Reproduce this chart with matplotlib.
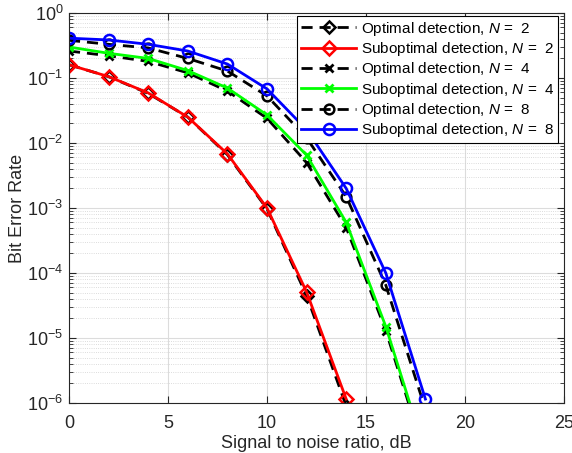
import numpy as np
import matplotlib
matplotlib.use("Agg")
import matplotlib.pyplot as plt
from matplotlib.ticker import LogLocator, NullFormatter

plt.rcParams['font.family'] = ['Liberation Sans', 'DejaVu Sans']
plt.rcParams['mathtext.fontset'] = 'custom'
plt.rcParams['mathtext.rm'] = 'Liberation Sans'
plt.rcParams['mathtext.it'] = 'Liberation Sans:italic'

# SNR grid, dB
snr = [0, 2, 4, 6, 8, 10, 12, 14, 16, 18]

# bit error rates
opt_n2 = [0.16, 0.105, 0.058, 0.025, 0.0066, 0.00097, 4.5e-5, 9e-7]
sub_n2 = [0.16, 0.105, 0.059, 0.025, 0.0068, 0.0010, 5.1e-5, 1.15e-6]
opt_n4 = [0.26, 0.22, 0.18, 0.12, 0.063, 0.024, 0.005, 5e-4, 1.3e-5, 1.5e-7]
sub_n4 = [0.30, 0.24, 0.20, 0.13, 0.070, 0.027, 0.0065, 6e-4, 1.5e-5, 1.7e-7]
opt_n8 = [0.38, 0.33, 0.29, 0.20, 0.128, 0.053, 0.012, 0.0015, 6.5e-5, 8e-7]
sub_n8 = [0.41, 0.385, 0.33, 0.26, 0.164, 0.068, 0.016, 0.002, 1e-4, 1.15e-6]

fig = plt.figure(figsize=(5.72, 4.53), dpi=100)
ax = fig.add_axes([69/572, 50/453, 495/572, 390/453])

ax.semilogy(snr[:len(opt_n2)], opt_n2, 'k--', marker='D', ms=6, mfc='none', mew=1.8, lw=2,
            dashes=(4, 2.5), label=r'Optimal detection, $N$ =  2')
ax.semilogy(snr[:len(sub_n2)], sub_n2, '-', color='#ff0000', marker='D', ms=7, mfc='none', mew=1.8, lw=2,
            label=r'Suboptimal detection, $N$ =  2')
ax.semilogy(snr, opt_n4, 'k--', marker='x', ms=6, mew=2, lw=2,
            dashes=(4, 2.5), label=r'Optimal detection, $N$ =  4')
ax.semilogy(snr, sub_n4, '-', color='#00ff00', marker='x', ms=6, mew=2, lw=2,
            label=r'Suboptimal detection, $N$ =  4')
ax.semilogy(snr, opt_n8, 'k--', marker='o', ms=7, mfc='none', mew=1.8, lw=2,
            dashes=(4, 2.5), label=r'Optimal detection, $N$ =  8')
ax.semilogy(snr, sub_n8, '-', color='#0000ff', marker='o', ms=8, mfc='none', mew=1.8, lw=2,
            label=r'Suboptimal detection, $N$ =  8')

ax.set_xlim(0, 25)
ax.set_ylim(1e-6, 1)
ax.set_xticks([0, 5, 10, 15, 20, 25])
ax.yaxis.set_major_locator(LogLocator(base=10, numticks=10))
ax.yaxis.set_minor_locator(LogLocator(base=10, subs=np.arange(2, 10), numticks=20))
ax.yaxis.set_minor_formatter(NullFormatter())

ax.grid(True, which='major', color='#dcdcdc', lw=0.8)
ax.grid(True, which='minor', axis='y', color='#d0d0d0', lw=0.6, ls=':')
ax.set_axisbelow(True)

ax.tick_params(which='both', direction='in', top=True, right=True, labelsize=13, colors='#262626')
ax.tick_params(which='major', length=5)
ax.tick_params(which='minor', length=3)
ax.tick_params(axis='x', pad=9)
ax.tick_params(axis='y', pad=4)
for s in ax.spines.values():
    s.set_color('#262626')
    s.set_linewidth(0.8)

ax.set_xlabel('Signal to noise ratio, dB', fontsize=13, color='#262626', labelpad=2)
ax.set_ylabel('Bit Error Rate', fontsize=13, color='#262626', labelpad=1)

leg = ax.legend(loc='upper right', fontsize=11, frameon=True, fancybox=False,
                edgecolor='black', framealpha=1, handlelength=3.6, borderpad=0.25,
                labelspacing=0.15, handletextpad=0.3, borderaxespad=0.0)
leg.set_bbox_to_anchor((558/572, 1 - 16/453), transform=fig.transFigure)
leg.get_frame().set_linewidth(0.8)

fig.savefig('out.png', dpi=100)
